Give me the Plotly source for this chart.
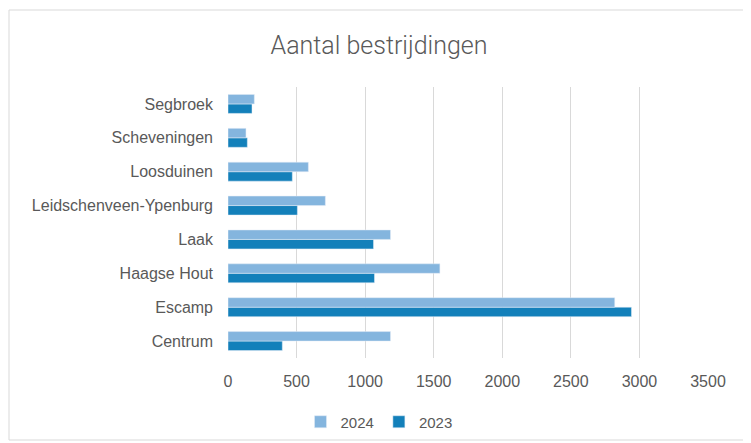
import plotly.graph_objects as go

categories = ["Centrum", "Escamp", "Haagse Hout", "Laak", "Leidschenveen-Ypenburg",
              "Loosduinen", "Scheveningen", "Segbroek"]
values_2024 = [1185, 2820, 1545, 1185, 710, 586, 131, 192]
values_2023 = [396, 2942, 1068, 1061, 506, 469, 141, 175]
x_ticks = [0, 500, 1000, 1500, 2000, 2500, 3000, 3500]

color_2024 = "#84B5DE"
color_2023 = "#1380BA"
text_color = "#595959"

fig = go.Figure()
fig.add_trace(go.Bar(y=categories, x=values_2023, orientation="h", name="2023",
                     marker_color=color_2023))
fig.add_trace(go.Bar(y=categories, x=values_2024, orientation="h", name="2024",
                     marker_color=color_2024))

# page body has an 8px margin: work in reference pixel coords minus 8
OFF = 8
W, H = 751 - OFF, 443 - OFF
L, T = 228 - OFF, 87 - OFF
pw, ph = 480, 271
R = W - L - pw
B = H - T - ph

def px_x(p):
    return (p - OFF - L) / pw

def px_y(p):
    return (T + ph - (p - OFF)) / ph

fig.update_layout(
    width=W, height=H,
    margin=dict(l=L, r=R, t=T, b=B, autoexpand=False),
    paper_bgcolor="white", plot_bgcolor="white",
    barmode="group", bargap=0.44, bargroupgap=0,
    font=dict(family="Liberation Sans, Arial, sans-serif", size=16, color=text_color),
    title=dict(text="Aantal bestrijdingen", x=(379 - OFF) / W, xanchor="center",
               y=1 - (45 - OFF) / H, yanchor="middle",
               font=dict(family="Roboto, sans-serif", size=25, color=text_color,
                         weight=300)),
    showlegend=True,
    legend=dict(orientation="h", traceorder="reversed", x=px_x(379), xanchor="center",
                y=px_y(422), yanchor="middle", font=dict(size=15, color=text_color),
                itemwidth=30),
    xaxis=dict(range=[0, 3500], tickvals=x_ticks, showgrid=True, gridcolor="#D9D9D9",
               gridwidth=1, zeroline=False, showline=False, ticks="",
               ticklabelstandoff=12, fixedrange=True, automargin=False),
    yaxis=dict(categoryorder="array", categoryarray=categories, showgrid=False,
               zeroline=False, showline=False, ticks="", ticklabelstandoff=14,
               automargin=False),
    shapes=[dict(type="rect", xref="paper", yref="paper",
                 x0=px_x(9), x1=px_x(745), y0=px_y(440), y1=px_y(10),
                 line=dict(color="#D9D9D9", width=1), fillcolor="rgba(0,0,0,0)",
                 layer="below")],
)

fig.write_html("out.html")
